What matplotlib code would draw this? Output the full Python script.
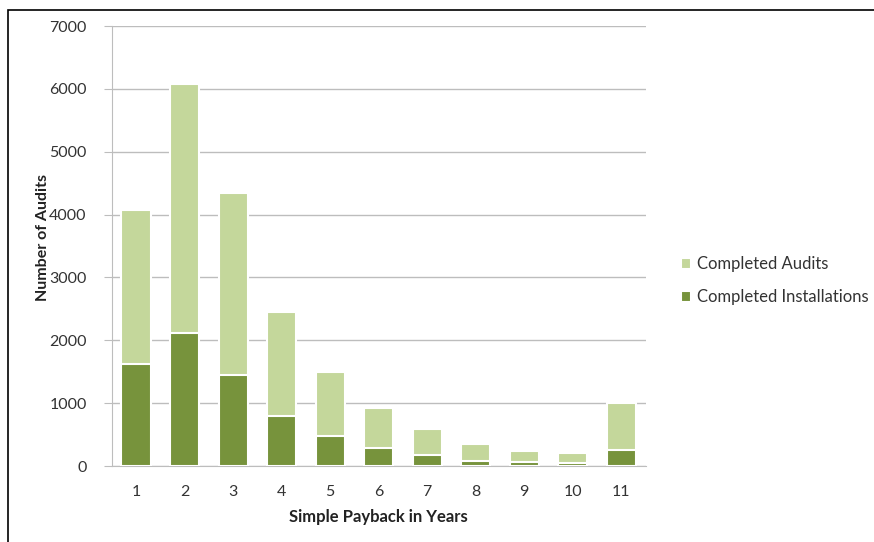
import matplotlib
matplotlib.use("Agg")
import matplotlib.pyplot as plt
from matplotlib.patches import Rectangle

# Audits by simple payback period (years)
years = [1, 2, 3, 4, 5, 6, 7, 8, 9, 10, 11]
completed_audits = [4080, 6080, 4340, 2450, 1490, 915, 590, 345, 245, 200, 995]
completed_installations = [1630, 2120, 1455, 800, 470, 285, 175, 85, 60, 52, 260]
y_ticks = [0, 1000, 2000, 3000, 4000, 5000, 6000, 7000]

light_green = "#C4D79B"
dark_green = "#77933C"
font = "Lato"

fig = plt.figure(figsize=(8.74, 5.42), dpi=100)
ax = fig.add_axes([0.1279, 0.1402, 0.6107, 0.8118])

ax.bar(years, completed_audits, width=0.6, color=light_green,
       edgecolor="white", linewidth=1.5, zorder=2, label="Completed Audits")
ax.bar(years, completed_installations, width=0.6, color=dark_green,
       edgecolor="white", linewidth=1.5, zorder=3, label="Completed Installations")

ax.set_xlim(0.5, 11.5)
ax.set_ylim(0, 7000)
ax.set_yticks(y_ticks)
ax.set_xticks(years)
ax.set_yticklabels([str(v) for v in y_ticks], fontfamily=font, fontsize=11.5, color="#333333")
ax.set_xticklabels([str(v) for v in years], fontfamily=font, fontsize=11.5, color="#333333")

ax.grid(axis="y", color="#BDBDBD", linewidth=1, zorder=0)
ax.set_axisbelow(True)
for s in ["top", "right"]:
    ax.spines[s].set_visible(False)
ax.spines["left"].set_color("#BDBDBD")
ax.spines["bottom"].set_color("#BDBDBD")
ax.tick_params(axis="y", length=6, color="#BDBDBD", pad=12)
ax.tick_params(axis="x", length=0, pad=14)

ax.set_ylabel("Number of Audits", fontfamily=font, fontsize=11.5, fontweight="bold",
              color="#222222")
ax.yaxis.set_label_coords(-0.116, 0.52)
ax.set_xlabel("Simple Payback in Years", fontfamily=font, fontsize=12, fontweight="bold",
              color="#222222", labelpad=7)

handles, labels = ax.get_legend_handles_labels()
fig.legend(handles, labels, loc="center left", bbox_to_anchor=(0.762, 0.482),
           frameon=False, prop={"family": font, "size": 12},
           handlelength=0.6, handleheight=0.6, handletextpad=0.35, labelspacing=1.0,
           labelcolor="#333333")

# outer frame
fig.patches.append(Rectangle((8 / 874, -0.01), 1.0, 1 - 10 / 542 + 0.01,
                             transform=fig.transFigure, fill=False,
                             edgecolor="black", linewidth=1.2))

fig.savefig("out.png", dpi=100)
